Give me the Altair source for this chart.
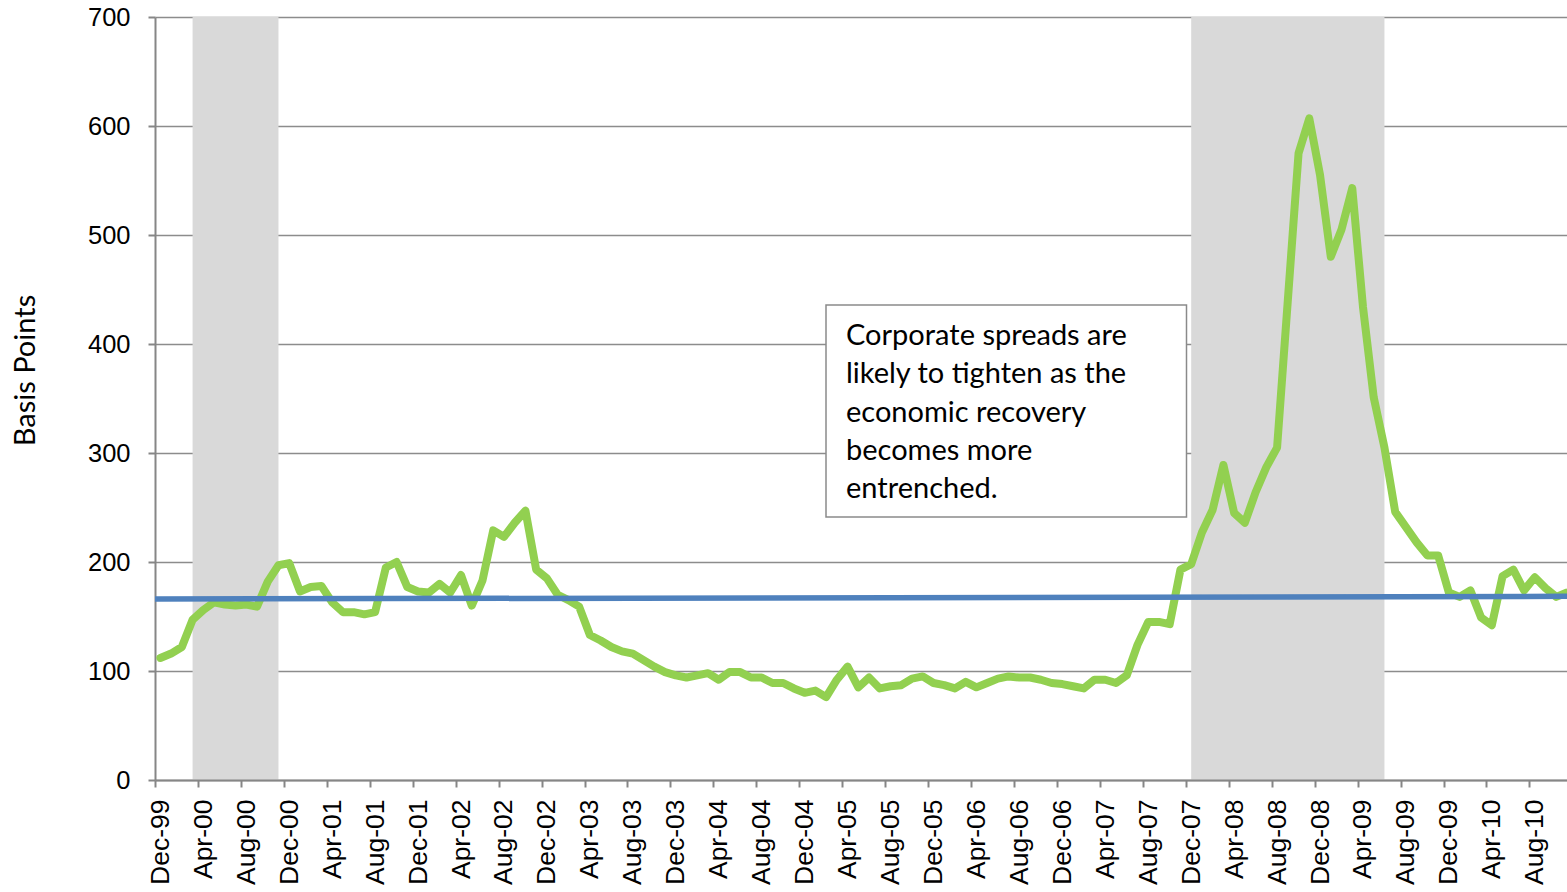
import json
import altair as alt
import pandas as pd

# ---- data ---------------------------------------------------------------
# Monthly corporate spread (basis points), Dec-99 onwards (index 0 = Dec-99)
spread = [
    112, 116, 122, 147, 156, 163, 161, 160, 161, 159, 182, 197,
    199, 173, 177, 178, 163, 154, 154, 152, 154, 195, 200, 177,
    173, 172, 180, 172, 188, 160, 183, 229, 223, 236, 247, 193,
    185, 170, 165, 159, 133, 128, 122, 118, 116, 110, 104, 99,
    96, 94, 96, 98, 92, 99, 99, 94, 94, 89, 89, 84,
    80, 82, 76, 92, 104, 85, 94, 84, 86, 87, 93, 95,
    89, 87, 84, 90, 85, 89, 93, 95, 94, 94, 92, 89,
    88, 86, 84, 92, 92, 89, 96, 124, 145, 145, 143, 193,
    198, 227, 248, 289, 245, 236, 264, 287, 305, 440, 575, 607,
    555, 480, 505, 543, 434, 351, 305, 246, 232, 218, 206, 206,
    172, 168, 174, 149, 142, 187, 193, 174, 186, 176, 168, 172,
]
month_index = list(range(len(spread)))

# Trend line end points
trend_month = [-0.5, 131.0]
trend_value = [166, 168.5]

# Recession shading (month index of start / end)
band_start = [3, 96]
band_end = [11, 114]

# Tick labels (every 4th month)
tick_labels = [
    "Dec-99", "Apr-00", "Aug-00", "Dec-00", "Apr-01", "Aug-01", "Dec-01",
    "Apr-02", "Aug-02", "Dec-02", "Apr-03", "Aug-03", "Dec-03", "Apr-04",
    "Aug-04", "Dec-04", "Apr-05", "Aug-05", "Dec-05", "Apr-06", "Aug-06",
    "Dec-06", "Apr-07", "Aug-07", "Dec-07", "Apr-08", "Aug-08", "Dec-08",
    "Apr-09", "Aug-09", "Dec-09", "Apr-10", "Aug-10",
]
tick_values = [4 * i for i in range(len(tick_labels))]
y_ticks = [0, 100, 200, 300, 400, 500, 600, 700]

note_lines = [
    "Corporate spreads are",
    "likely to tighten as the",
    "economic recovery",
    "becomes more",
    "entrenched.",
]

# ---- layout -------------------------------------------------------------
W, H = 1412, 763
STEP = W / 131.5

df_line = pd.DataFrame({"m": month_index, "v": spread})
df_trend = pd.DataFrame({"m": trend_month, "v": trend_value})
df_band = pd.DataFrame({"s": band_start, "e": band_end})

x_scale = alt.Scale(domain=[-0.5, 131.0], nice=False, zero=False)
y_scale = alt.Scale(domain=[0, 700], nice=False)

label_expr = json.dumps(tick_labels) + "[round(datum.value / 4)]"

x_axis = alt.Axis(
    values=tick_values,
    labelExpr=label_expr,
    labelAngle=-90,
    labelFont="Liberation Sans",
    labelFontSize=26.5,
    labelColor="#000000",
    labelPadding=12,
    tickOffset=-STEP / 2,
    labelOffset=STEP / 2,
    tickSize=7,
    tickColor="#868686",
    tickWidth=2,
    domainColor="#868686",
    domainWidth=2,
    grid=False,
    title=None,
    zindex=1,
)

y_axis = alt.Axis(
    values=y_ticks,
    labelFont="Liberation Sans",
    labelFontSize=25.5,
    labelColor="#000000",
    labelPadding=18,
    tickSize=7,
    tickColor="#868686",
    tickWidth=2,
    domainColor="#868686",
    domainWidth=2,
    grid=True,
    gridColor="#8c8c8c",
    gridWidth=1.5,
    title="Basis Points",
    titleFont="Lato",
    titleFontSize=29,
    titleFontWeight="normal",
    titleColor="#000000",
    titleAngle=-90,
    titleX=-130,
    titleY=353,
    titleAlign="center",
    titleBaseline="middle",
)

bands = alt.Chart(df_band).mark_rect(color="#D9D9D9").encode(
    x=alt.X("s:Q", scale=x_scale, axis=x_axis),
    x2="e:Q",
    y=alt.value(0),
    y2=alt.value(H),
)

line = alt.Chart(df_line).mark_line(
    color="#92D050", strokeWidth=8, strokeJoin="round", strokeCap="round", clip=True
).encode(
    x=alt.X("m:Q", scale=x_scale, axis=x_axis),
    y=alt.Y("v:Q", scale=y_scale, axis=y_axis),
)

trend = alt.Chart(df_trend).mark_line(color="#4F81BD", strokeWidth=5.5).encode(
    x=alt.X("m:Q", scale=x_scale, axis=x_axis),
    y=alt.Y("v:Q", scale=y_scale, axis=y_axis),
)

box = alt.Chart(pd.DataFrame({"a": [0]})).mark_rect(
    fill="#FFFFFF", stroke="#8a8a8a", strokeWidth=1.5
).encode(
    x=alt.value(671),
    x2=alt.value(1031.5),
    y=alt.value(288),
    y2=alt.value(500),
)

note = alt.Chart(pd.DataFrame({"a": [0]})).mark_text(
    text=note_lines,
    align="left",
    baseline="alphabetic",
    font="Lato",
    fontSize=29,
    lineHeight=38.3,
    color="#000000",
).encode(
    x=alt.value(691),
    y=alt.value(328),
)

chart = (
    alt.layer(bands, line, trend, box, note)
    .properties(
        width=W,
        height=H,
        autosize=alt.AutoSizeParams(type="none"),
        padding={"left": 155, "top": 17, "right": 0, "bottom": 112},
        background="#FFFFFF",
    )
    .configure_view(stroke=None)
)

chart.save("out.html", embed_options={"renderer": "svg", "actions": False})
